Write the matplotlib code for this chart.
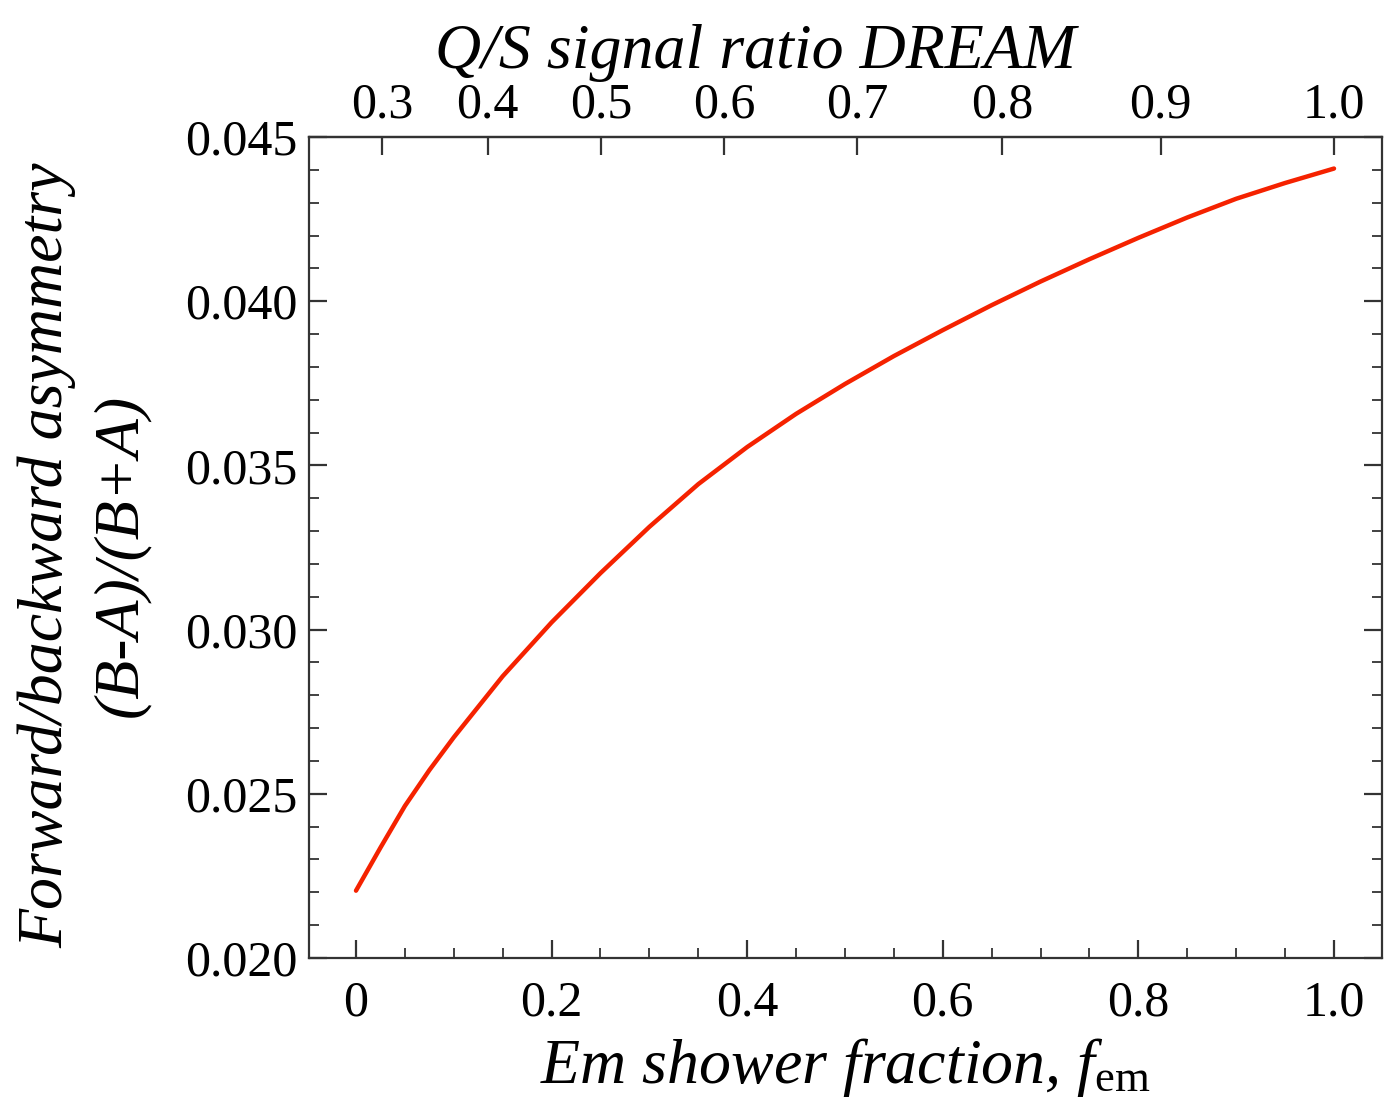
import numpy as np
import matplotlib
matplotlib.use("Agg")
import matplotlib.pyplot as plt
from matplotlib.ticker import MultipleLocator, FixedLocator

# ---- data ----
f_em = [0.000, 0.025, 0.050, 0.075, 0.10, 0.15, 0.20, 0.25, 0.30, 0.35, 0.40,
        0.45, 0.50, 0.55, 0.60, 0.65, 0.70, 0.75, 0.80, 0.85, 0.90, 0.95, 1.00]
asym = [0.02205, 0.02336, 0.02463, 0.02572, 0.02672, 0.02858, 0.03022,
        0.03172, 0.03313, 0.03443, 0.03556, 0.03657, 0.03748, 0.03833,
        0.03912, 0.03988, 0.04060, 0.04128, 0.04193, 0.04255, 0.04312,
        0.04360, 0.04404]

bottom_ticks = [0.0, 0.2, 0.4, 0.6, 0.8, 1.0]
bottom_labels = ["0", "0.2", "0.4", "0.6", "0.8", "1.0"]
left_ticks = [0.020, 0.025, 0.030, 0.035, 0.040, 0.045]
left_labels = ["0.020", "0.025", "0.030", "0.035", "0.040", "0.045"]
top_ticks = [0.3, 0.4, 0.5, 0.6, 0.7, 0.8, 0.9, 1.0]
top_labels = ["0.3", "0.4", "0.5", "0.6", "0.7", "0.8", "0.9", "1.0"]

# h/e values (Cherenkov, scintillation) that relate f_em to Q/S ratio
he_q = 0.203
he_s = 0.741


def fem_to_qs(f):
    f = np.asarray(f, dtype=float)
    return (f + (1 - f) * he_q) / (f + (1 - f) * he_s)


def qs_to_fem(r):
    r = np.asarray(r, dtype=float)
    return (r * he_s - he_q) / (1 - he_q - r * (1 - he_s))


plt.rcParams['font.family'] = ['Liberation Serif', 'DejaVu Serif']
plt.rcParams['mathtext.fontset'] = 'custom'
plt.rcParams['mathtext.it'] = 'Liberation Serif:italic'
plt.rcParams['mathtext.rm'] = 'Liberation Serif'

fig = plt.figure(figsize=(13.84, 10.97), dpi=100)
ax = fig.add_axes([0.2233, 0.1267, 0.7752, 0.7484])

ax.plot(f_em, asym, color='#f52200', lw=3.2, solid_capstyle='round',
        solid_joinstyle='round')

ax.set_xlim(-0.048, 1.049)
ax.set_ylim(0.020, 0.045)

spine_c = '#333333'
for s in ax.spines.values():
    s.set_linewidth(1.6)
    s.set_color(spine_c)

ax.set_xticks(bottom_ticks)
ax.set_xticklabels(bottom_labels)
ax.xaxis.set_minor_locator(MultipleLocator(0.05))
ax.set_yticks(left_ticks)
ax.set_yticklabels(left_labels)
ax.yaxis.set_minor_locator(MultipleLocator(0.001))

ax.tick_params(axis='both', which='major', direction='in', length=13, width=1.6,
               color=spine_c, labelsize=36)
ax.tick_params(axis='both', which='minor', direction='in', length=7, width=1.3,
               color=spine_c)
ax.tick_params(axis='y', which='both', right=True, labelright=False)
ax.tick_params(axis='x', which='both', top=False)
ax.tick_params(axis='x', which='major', pad=16)
ax.tick_params(axis='y', which='major', pad=8)

ax2 = ax.secondary_xaxis('top', functions=(fem_to_qs, qs_to_fem))
ax2.set_xticks(top_ticks)
ax2.set_xticklabels(top_labels)
ax2.xaxis.set_minor_locator(FixedLocator([]))
ax2.tick_params(axis='x', which='major', direction='in', length=13, width=1.6,
                color=spine_c, labelsize=36, pad=6)
ax2.spines['top'].set_linewidth(1.6)
ax2.spines['top'].set_color(spine_c)
ax2.set_xlabel('Q/S signal ratio DREAM', fontsize=46, style='italic')
ax2.xaxis.set_label_coords(0.416, 1.0 + (137 - 68) / 821.0, transform=ax.transAxes)

ax.set_xlabel(r'Em shower fraction, $f_{\mathrm{em}}$', fontsize=46, style='italic')
ax.xaxis.set_label_coords(0.50, -(1036 - 958) / 821.0)
ax.set_ylabel('Forward/backward asymmetry\n(B-A)/(B+A)', fontsize=46,
              style='italic', linespacing=1.35)
ax.yaxis.set_label_coords(-(309 - 150) / 1073.0, 0.49)

fig.savefig('out.png', dpi=100)
